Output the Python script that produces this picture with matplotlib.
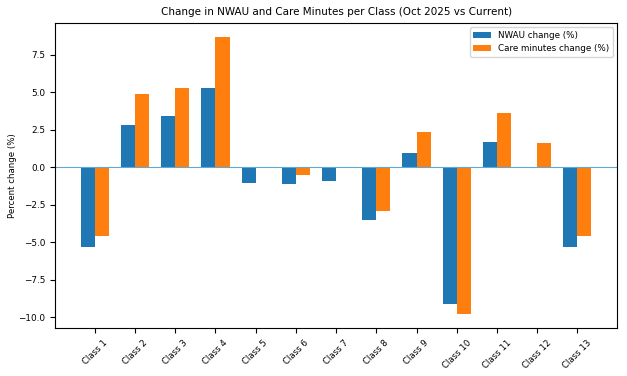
import matplotlib.pyplot as plt
import numpy as np

classes = ['Class %d' % i for i in range(1, 14)]
nwau_change = [-5.35, 2.85, 3.41, 5.30, -1.02, -1.09, -0.94, -3.50, 0.94, -9.15, 1.69, 0.0, -5.35]
care_change = [-4.61, 4.88, 5.30, 8.71, 0.0, -0.53, 0.0, -2.92, 2.38, -9.82, 3.65, 1.60, -4.61]

x = np.arange(len(classes))
width = 0.35

fig, ax = plt.subplots(figsize=(6.27, 3.76), dpi=100)
ax.bar(x - width / 2, nwau_change, width, label='NWAU change (%)')
ax.bar(x + width / 2, care_change, width, label='Care minutes change (%)')
ax.axhline(0, linewidth=0.8, color='#5fa8d8')

ax.set_xticks(x)
ax.set_xticklabels(classes, rotation=45, fontsize=6.2)
ax.tick_params(axis='y', labelsize=6.4)
ax.set_ylabel('Percent change (%)', fontsize=6.2, labelpad=1)
ax.set_title('Change in NWAU and Care Minutes per Class (Oct 2025 vs Current)', fontsize=7.5)
ax.legend(fontsize=6.3, loc='upper right')

plt.subplots_adjust(left=0.088, right=0.984, top=0.939, bottom=0.127)
plt.savefig('out.png', dpi=100)
